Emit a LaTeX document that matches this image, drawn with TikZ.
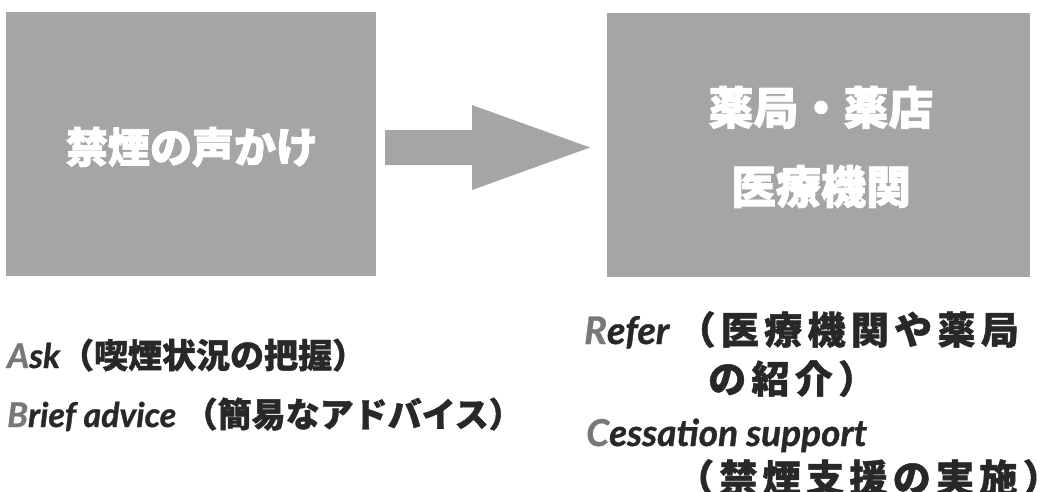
\documentclass[tikz,border=0pt]{standalone}
\usepackage{fontspec}
\usetikzlibrary{calc}
\newfontfamily\jp{Noto Sans CJK JP}[FakeBold=1.2]
\newfontfamily\jpwide{Noto Sans CJK JP}[LetterSpace=14,FakeBold=1.2]
\newfontfamily\jpbox{Noto Sans CJK JP}[FakeBold=2]
\newfontfamily\lat{Lato}[FakeBold=1]
\definecolor{boxgray}{RGB}{165,165,165}
\definecolor{ink}{RGB}{40,40,40}
\definecolor{initial}{RGB}{120,120,120}
\newcommand{\ini}[1]{{\color{initial}#1}}
\tikzset{
  panel/.style={fill=boxgray, draw=none, inner sep=0pt},
  paneltext/.style={text=white, align=center, inner sep=0pt},
  label/.style={text=ink, anchor=base west, inner sep=0pt},
  blockarrow/.style={fill=boxgray, draw=none}
}
\begin{document}
\begin{tikzpicture}[x=1pt,y=-1pt]
\useasboundingbox (0,0) rectangle (1041,491);
\node[panel, minimum width=370pt, minimum height=264pt] (L) at (191,144) {};
\node[panel, minimum width=423pt, minimum height=264pt] (R) at (818.5,145) {};
\coordinate (as) at (385,147.5);
\coordinate (at) at (590,147.5);
\fill[blockarrow] (as) ++(0,-17.5) -- ++(87,0) -- ++(0,-25) -- (at)
   -- ($(as)+(87,42.5)$) -- ++(0,-25) -- ++(-87,0) -- cycle;
\node[paneltext, font=\jpbox\bfseries\fontsize{42}{42}\selectfont] (Lt) at (192,147) {禁煙の声かけ};
\node[paneltext, font=\jpbox\bfseries\fontsize{45}{79}\selectfont] (Rt) at (821,147) {薬局・薬店\\医療機関};
% bottom left
\node[label, font=\fontsize{34}{34}\selectfont] (ask) at (7,368)
  {{\lat\bfseries\itshape\ini{A}sk}{\jp\bfseries（喫煙状況の把握）}};
\node[label, font=\fontsize{34}{34}\selectfont] (brief) at (7,427)
  {{\lat\bfseries\itshape\ini{B}rief advice }{\jp\bfseries（簡易なアドバイス）}};
% bottom right
\node[label, font=\fontsize{38}{38}\selectfont] (refer) at (584,344)
  {{\lat\bfseries\itshape\ini{R}efer }{\jpwide\bfseries（医療機関や薬局}};
\node[label, font=\fontsize{38}{38}\selectfont] (refer2) at (708,393)
  {{\jpwide\bfseries の紹介）}};
\node[label, font=\fontsize{37}{37}\selectfont] (cess) at (586,446)
  {{\lat\bfseries\itshape\ini{C}essation support}};
\node[label, font=\fontsize{38}{38}\selectfont] (cess2) at (676,492)
  {{\jpwide\bfseries（禁煙支援の実施）}};
\end{tikzpicture}
\end{document}
